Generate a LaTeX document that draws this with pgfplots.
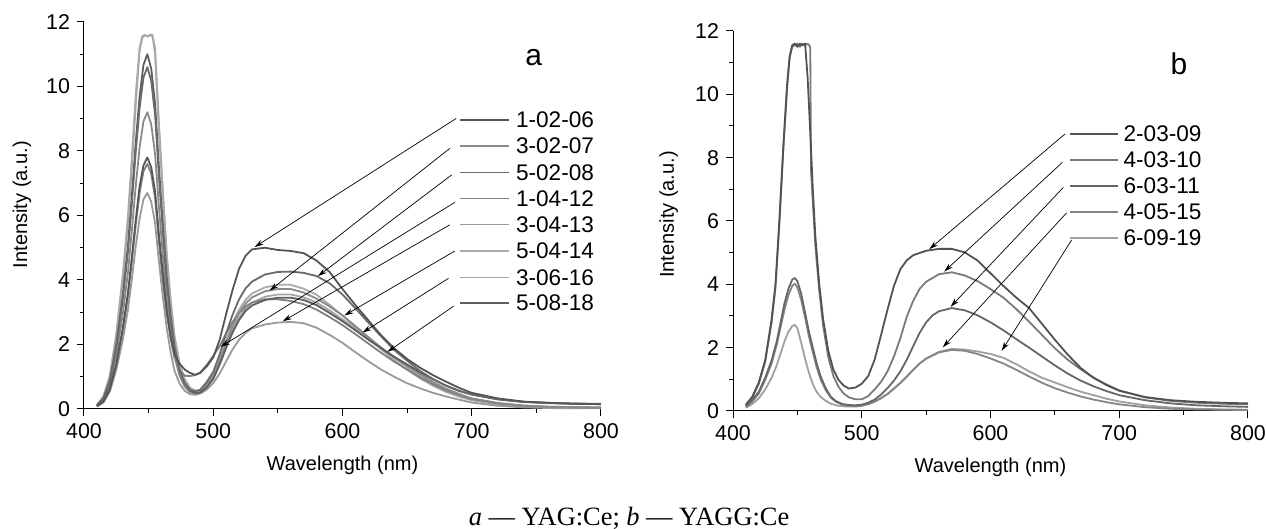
\documentclass[border=0pt]{standalone}
\usepackage{fontspec}
\setmainfont{Liberation Sans}
\newfontfamily\seriffont{Liberation Serif}
\usepackage{pgfplots}
\pgfplotsset{compat=1.18}
\usetikzlibrary{arrows.meta}

\definecolor{la}{HTML}{555555}% 1-02-06
\definecolor{lb}{HTML}{8A8A8A}% 3-02-07
\definecolor{lc}{HTML}{6A6A6A}% 5-02-08
\definecolor{ld}{HTML}{808080}% 1-04-12
\definecolor{le}{HTML}{9A9A9A}% 3-04-13
\definecolor{lf}{HTML}{AAAAAA}% 5-04-14
\definecolor{lg}{HTML}{A6A6A6}% 3-06-16
\definecolor{lh}{HTML}{5E5E5E}% 5-08-18
\definecolor{ra}{HTML}{525252}% 2-03-09
\definecolor{rb}{HTML}{7A7A7A}% 4-03-10
\definecolor{rc}{HTML}{666666}% 6-03-11
\definecolor{rd}{HTML}{858585}% 4-05-15
\definecolor{re}{HTML}{A0A0A0}% 6-09-19

\tikzset{
  leader/.style={line width=0.35pt, black, -{Stealth[length=4.5pt,width=2.6pt]}},
  legline/.style={line width=0.75pt},
  legtext/.style={anchor=west, inner sep=0pt, font=\fontsize{11.3}{13}\selectfont},
}
\pgfplotsset{
  spec/.style={
    scale only axis, xmin=400, xmax=800, ymin=0, ymax=12,
    axis x line*=bottom, axis y line*=left,
    axis line style={-, line width=0.5pt, black},
    xtick={400,500,...,800}, ytick={0,2,...,12},
    minor x tick num=1, minor y tick num=1,
    tick align=outside, major tick length=3.5pt, minor tick length=2pt,
    tick style={black, line width=0.5pt},
    ticklabel style={font=\fontsize{10.7}{12}\selectfont},
    /pgf/number format/assume math mode=true,
    label style={font=\fontsize{11.3}{13}\selectfont},
    xlabel={Wavelength (nm)}, ylabel={Intensity (a.u.)},
    clip=false,
    every axis plot/.append style={line width=0.9pt, no markers, line join=round},
  },
}

\begin{document}
\begin{tikzpicture}
\useasboundingbox (0,0) rectangle (633pt,264.5pt);

% ---------------- panel a ----------------
\begin{axis}[spec, at={(42pt,60pt)}, anchor=south west,
  width=258.5pt, height=193.5pt,
  every axis x label/.style={at={(axis description cs:0.5,-0.145)}, anchor=center},
  every axis y label/.style={at={(axis description cs:-0.12,0.528)}, anchor=center, rotate=90}]

% 3-06-16
\addplot[lg] coordinates {(410,0.12)(415,0.37)(420,1.00)(425,2.25)(430,4.00)(434,5.80)(437,7.50)(440,9.40)(443,11.10)(445,11.50)(447,11.60)(449,11.55)(451,11.60)(453,11.60)(455,11.00)(458,8.62)(461,6.64)(464,4.72)(467,3.34)(470,2.21)(474,1.37)(478,0.89)(482,0.63)(486,0.53)(490,0.54)(495,0.73)(500,0.96)(505,1.42)(510,1.95)(515,2.45)(520,2.84)(525,3.12)(530,3.30)(540,3.48)(550,3.55)(560,3.55)(570,3.46)(580,3.30)(590,3.06)(600,2.78)(610,2.50)(620,2.20)(630,1.90)(640,1.60)(650,1.30)(660,1.02)(670,0.78)(680,0.58)(690,0.42)(700,0.30)(720,0.15)(740,0.08)(760,0.05)(780,0.04)(800,0.03)};
% 5-04-14
\addplot[lf] coordinates {(410,0.13)(415,0.39)(420,1.04)(425,2.34)(430,4.16)(434,5.98)(437,7.80)(440,9.75)(443,11.20)(445,11.55)(447,11.60)(449,11.55)(451,11.60)(453,11.55)(455,11.20)(458,8.86)(461,6.79)(464,4.83)(467,3.42)(470,2.28)(474,1.40)(478,0.92)(482,0.66)(486,0.57)(490,0.57)(495,0.78)(500,1.06)(505,1.54)(510,2.12)(515,2.66)(520,3.08)(525,3.39)(530,3.58)(540,3.77)(550,3.85)(560,3.85)(570,3.73)(580,3.54)(590,3.23)(600,2.90)(610,2.55)(620,2.20)(630,1.85)(640,1.52)(650,1.22)(660,0.95)(670,0.72)(680,0.53)(690,0.38)(700,0.27)(720,0.14)(740,0.08)(760,0.05)(780,0.04)(800,0.03)};
% 3-04-13
\addplot[le] coordinates {(410,0.07)(415,0.20)(420,0.54)(425,1.21)(430,2.14)(434,3.08)(437,4.02)(440,5.03)(443,5.90)(446,6.50)(449,6.70)(452,6.43)(455,5.76)(458,4.56)(461,3.48)(464,2.50)(467,1.77)(470,1.19)(474,0.78)(478,0.56)(482,0.46)(486,0.44)(490,0.48)(495,0.60)(500,0.80)(505,1.10)(510,1.48)(515,1.85)(520,2.15)(525,2.36)(530,2.50)(540,2.62)(550,2.68)(560,2.70)(570,2.66)(580,2.52)(590,2.30)(600,2.05)(610,1.76)(620,1.48)(630,1.22)(640,1.00)(650,0.80)(660,0.64)(670,0.50)(680,0.39)(690,0.29)(700,0.20)(720,0.10)(740,0.05)(760,0.03)(780,0.02)(800,0.02)};
% 1-04-12
\addplot[ld] coordinates {(410,0.08)(415,0.23)(420,0.61)(425,1.37)(430,2.43)(434,3.50)(437,4.56)(440,5.70)(443,6.69)(446,7.37)(449,7.60)(452,7.30)(455,6.54)(458,5.17)(461,3.97)(464,2.96)(467,2.20)(470,1.59)(474,1.18)(478,1.03)(482,1.02)(486,1.05)(490,1.13)(495,1.37)(500,1.65)(505,1.95)(510,2.35)(515,2.70)(520,2.98)(525,3.18)(530,3.30)(540,3.40)(550,3.40)(560,3.35)(570,3.25)(580,3.08)(590,2.85)(600,2.60)(610,2.32)(620,2.03)(630,1.74)(640,1.47)(650,1.22)(660,0.98)(670,0.77)(680,0.58)(690,0.43)(700,0.31)(720,0.17)(740,0.10)(760,0.07)(780,0.05)(800,0.05)};
% 3-02-07
\addplot[lb] coordinates {(410,0.09)(415,0.28)(420,0.74)(425,1.66)(430,2.94)(434,4.23)(437,5.52)(440,6.90)(443,8.10)(446,8.92)(449,9.20)(452,8.83)(455,7.91)(458,6.26)(461,4.78)(464,3.42)(467,2.43)(470,1.63)(474,1.02)(478,0.69)(482,0.52)(486,0.48)(490,0.52)(495,0.76)(500,1.00)(505,1.49)(510,2.05)(515,2.57)(520,2.98)(525,3.27)(530,3.46)(540,3.65)(550,3.72)(560,3.72)(570,3.61)(580,3.42)(590,3.18)(600,2.90)(610,2.57)(620,2.23)(630,1.90)(640,1.60)(650,1.34)(660,1.08)(670,0.84)(680,0.63)(690,0.47)(700,0.33)(720,0.19)(740,0.11)(760,0.07)(780,0.06)(800,0.04)};
% 5-08-18
\addplot[lh] coordinates {(410,0.11)(415,0.33)(420,0.88)(425,1.98)(430,3.52)(434,5.06)(437,6.60)(440,8.25)(443,9.68)(446,10.67)(449,11.00)(452,10.56)(455,9.46)(458,7.48)(461,5.72)(464,4.09)(467,2.89)(470,1.93)(474,1.19)(478,0.79)(482,0.57)(486,0.50)(490,0.51)(495,0.67)(500,0.93)(505,1.38)(510,1.90)(515,2.38)(520,2.76)(525,3.04)(530,3.21)(540,3.38)(550,3.45)(560,3.45)(570,3.38)(580,3.22)(590,2.98)(600,2.72)(610,2.44)(620,2.15)(630,1.88)(640,1.62)(650,1.38)(660,1.14)(670,0.92)(680,0.73)(690,0.57)(700,0.45)(720,0.30)(740,0.22)(760,0.19)(780,0.17)(800,0.16)};
% 5-02-08
\addplot[lc] coordinates {(410,0.11)(415,0.32)(420,0.85)(425,1.91)(430,3.39)(434,4.88)(437,6.36)(440,7.95)(443,9.33)(446,10.28)(449,10.60)(452,10.18)(455,9.12)(458,7.21)(461,5.51)(464,3.94)(467,2.80)(470,1.88)(474,1.17)(478,0.80)(482,0.60)(486,0.55)(490,0.60)(495,0.84)(500,1.15)(505,1.70)(510,2.34)(515,2.93)(520,3.40)(525,3.74)(530,3.95)(540,4.17)(550,4.25)(560,4.26)(570,4.22)(580,4.12)(590,3.90)(600,3.55)(610,3.12)(620,2.68)(630,2.25)(640,1.83)(650,1.50)(660,1.18)(670,0.93)(680,0.72)(690,0.56)(700,0.45)(720,0.30)(740,0.22)(760,0.18)(780,0.16)(800,0.15)};
% 1-02-06
\addplot[la] coordinates {(410,0.10)(415,0.23)(420,0.62)(425,1.40)(430,2.50)(434,3.60)(437,4.70)(440,5.85)(443,6.90)(446,7.55)(449,7.80)(452,7.50)(455,6.75)(458,5.40)(461,4.20)(464,3.05)(467,2.25)(470,1.70)(474,1.40)(478,1.22)(482,1.12)(486,1.06)(490,1.12)(495,1.32)(500,1.60)(505,2.15)(510,2.95)(515,3.70)(520,4.35)(525,4.75)(530,4.95)(540,5.00)(550,4.93)(560,4.90)(570,4.83)(580,4.60)(590,4.25)(600,3.72)(610,3.22)(620,2.75)(630,2.28)(640,1.88)(650,1.55)(660,1.28)(670,1.05)(680,0.85)(690,0.66)(700,0.50)(720,0.33)(740,0.23)(760,0.19)(780,0.16)(800,0.15)};

% legend a
\draw[legline, la] (axis cs:691,8.96) -- (axis cs:729,8.96);
\draw[legline, lb] (axis cs:691,8.16) -- (axis cs:729,8.16);
\draw[legline, lc] (axis cs:691,7.34) -- (axis cs:729,7.34);
\draw[legline, ld] (axis cs:691,6.52) -- (axis cs:729,6.52);
\draw[legline, le] (axis cs:691,5.72) -- (axis cs:729,5.72);
\draw[legline, lf] (axis cs:691,4.90) -- (axis cs:729,4.90);
\draw[legline, lg] (axis cs:691,4.08) -- (axis cs:729,4.08);
\draw[legline, lh] (axis cs:691,3.28) -- (axis cs:729,3.28);
\node[legtext] at (axis cs:734,8.96) {1-02-06};
\node[legtext] at (axis cs:734,8.16) {3-02-07};
\node[legtext] at (axis cs:734,7.34) {5-02-08};
\node[legtext] at (axis cs:734,6.52) {1-04-12};
\node[legtext] at (axis cs:734,5.72) {3-04-13};
\node[legtext] at (axis cs:734,4.90) {5-04-14};
\node[legtext] at (axis cs:734,4.08) {3-06-16};
\node[legtext] at (axis cs:734,3.28) {5-08-18};
\draw[leader] (axis cs:688,9.01) -- (axis cs:532,5.02);
\draw[leader] (axis cs:683,8.08) -- (axis cs:543.6,3.67);
\draw[leader] (axis cs:684.5,7.26) -- (axis cs:581,4.12);
\draw[leader] (axis cs:687,6.41) -- (axis cs:505.8,1.93);
\draw[leader] (axis cs:683,5.71) -- (axis cs:553.8,2.72);
\draw[leader] (axis cs:687,4.90) -- (axis cs:601.5,2.9);
\draw[leader] (axis cs:682,4.05) -- (axis cs:615.5,2.37);
\draw[leader] (axis cs:686,3.19) -- (axis cs:634.8,1.77);
\node[font=\fontsize{15}{18}\selectfont] at (axis cs:748,10.89) {a};
\end{axis}

% ---------------- panel b ----------------
\begin{axis}[spec, at={(366.5pt,59pt)}, anchor=south west,
  width=257.5pt, height=190pt,
  every axis x label/.style={at={(axis description cs:0.5,-0.147)}, anchor=center},
  every axis y label/.style={at={(axis description cs:-0.125,0.517)}, anchor=center, rotate=90}]

% 6-09-19
\addplot[re] coordinates {(410,0.10)(415,0.22)(420,0.40)(425,0.68)(430,1.05)(434,1.45)(437,1.82)(440,2.20)(443,2.50)(446,2.68)(448,2.72)(450,2.62)(453,2.15)(456,1.65)(459,1.20)(462,0.85)(465,0.60)(468,0.45)(472,0.32)(476,0.23)(480,0.18)(485,0.15)(490,0.14)(495,0.14)(500,0.16)(505,0.21)(510,0.29)(515,0.40)(520,0.53)(525,0.70)(530,0.88)(535,1.08)(540,1.30)(545,1.50)(550,1.66)(560,1.87)(570,1.96)(580,1.94)(590,1.88)(600,1.80)(610,1.68)(620,1.48)(630,1.25)(640,1.05)(650,0.90)(660,0.75)(670,0.61)(680,0.50)(690,0.39)(700,0.30)(720,0.18)(740,0.11)(760,0.07)(780,0.05)(800,0.04)};
% 4-05-15
\addplot[rd] coordinates {(410,0.12)(415,0.30)(420,0.55)(425,0.98)(430,1.50)(434,2.10)(437,2.65)(440,3.20)(443,3.65)(446,3.95)(448,4.02)(450,3.90)(453,3.50)(456,2.95)(459,2.35)(462,1.85)(465,1.38)(468,1.00)(472,0.66)(476,0.42)(480,0.29)(485,0.20)(490,0.16)(495,0.15)(500,0.17)(505,0.22)(510,0.30)(515,0.41)(520,0.54)(525,0.71)(530,0.89)(535,1.09)(540,1.30)(545,1.50)(550,1.65)(560,1.85)(570,1.93)(580,1.90)(590,1.80)(600,1.66)(610,1.50)(620,1.30)(630,1.09)(640,0.89)(650,0.72)(660,0.58)(670,0.46)(680,0.36)(690,0.28)(700,0.21)(720,0.12)(740,0.07)(760,0.05)(780,0.04)(800,0.03)};
% 6-03-11
\addplot[rc] coordinates {(410,0.15)(415,0.35)(420,0.60)(425,1.05)(430,1.60)(434,2.20)(437,2.80)(440,3.40)(443,3.85)(446,4.15)(448,4.20)(450,4.10)(453,3.70)(456,3.10)(459,2.50)(462,2.00)(465,1.50)(468,1.10)(472,0.72)(476,0.45)(480,0.31)(485,0.22)(490,0.19)(495,0.18)(500,0.20)(505,0.26)(510,0.36)(515,0.52)(520,0.72)(525,0.96)(530,1.25)(535,1.62)(540,2.05)(545,2.47)(550,2.80)(555,3.02)(560,3.15)(570,3.25)(580,3.18)(590,3.02)(600,2.80)(610,2.55)(620,2.27)(630,2.00)(640,1.72)(650,1.44)(660,1.18)(670,0.96)(680,0.78)(690,0.63)(700,0.50)(720,0.34)(740,0.24)(760,0.18)(780,0.15)(800,0.13)};
% 4-03-10
\addplot[rb] coordinates {(410,0.18)(415,0.42)(420,0.85)(425,1.55)(430,2.80)(433,3.90)(436,5.90)(439,8.20)(442,10.20)(444,11.15)(446,11.50)(448,11.55)(450,11.60)(452,11.50)(454,11.60)(456,11.55)(458,11.60)(460,11.50)(460.6,7.60)(462,6.60)(464,5.20)(467,3.80)(470,2.70)(474,1.70)(478,1.10)(482,0.76)(486,0.55)(490,0.43)(495,0.37)(500,0.37)(505,0.47)(510,0.68)(515,0.92)(520,1.25)(525,1.72)(530,2.30)(535,2.98)(540,3.48)(545,3.86)(550,4.08)(560,4.32)(570,4.38)(580,4.28)(590,4.10)(600,3.85)(610,3.58)(620,3.22)(630,2.82)(640,2.40)(650,1.98)(660,1.62)(670,1.32)(680,1.05)(690,0.84)(700,0.65)(720,0.43)(740,0.32)(760,0.26)(780,0.23)(800,0.21)};
% 2-03-09
\addplot[ra] coordinates {(410,0.20)(415,0.45)(420,0.90)(425,1.60)(430,2.90)(433,4.00)(436,6.00)(439,8.30)(442,10.30)(444,11.20)(446,11.55)(448,11.60)(450,11.50)(452,11.60)(454,11.55)(456,11.60)(458,10.50)(460,8.80)(462,7.00)(464,5.50)(467,4.00)(470,2.90)(474,1.90)(478,1.30)(482,0.98)(486,0.80)(490,0.71)(495,0.74)(500,0.86)(505,1.10)(510,1.62)(515,2.40)(520,3.20)(525,3.95)(530,4.48)(535,4.76)(540,4.92)(550,5.06)(560,5.12)(570,5.12)(580,5.01)(590,4.75)(600,4.35)(610,3.95)(620,3.58)(630,3.25)(640,2.75)(650,2.25)(660,1.78)(670,1.36)(680,1.05)(690,0.82)(700,0.64)(720,0.44)(740,0.34)(760,0.29)(780,0.26)(800,0.24)};

% legend b
\draw[legline, ra] (axis cs:661.7,8.75) -- (axis cs:698.8,8.75);
\draw[legline, rb] (axis cs:661.7,7.93) -- (axis cs:698.8,7.93);
\draw[legline, rc] (axis cs:661.7,7.11) -- (axis cs:698.8,7.11);
\draw[legline, rd] (axis cs:661.7,6.29) -- (axis cs:698.8,6.29);
\draw[legline, re] (axis cs:661.7,5.47) -- (axis cs:698.8,5.47);
\node[legtext] at (axis cs:703.1,8.75) {2-03-09};
\node[legtext] at (axis cs:703.1,7.93) {4-03-10};
\node[legtext] at (axis cs:703.1,7.11) {6-03-11};
\node[legtext] at (axis cs:703.1,6.29) {4-05-15};
\node[legtext] at (axis cs:703.1,5.47) {6-09-19};
\draw[leader] (axis cs:657.9,8.75) -- (axis cs:552.5,5.11);
\draw[leader] (axis cs:655.8,7.85) -- (axis cs:564,4.40);
\draw[leader] (axis cs:656.6,7.06) -- (axis cs:569,3.29);
\draw[leader] (axis cs:659.2,6.26) -- (axis cs:562.9,2.01);
\draw[leader] (axis cs:663,5.40) -- (axis cs:608.7,1.90);
\node[font=\fontsize{15}{18}\selectfont] at (axis cs:746.4,10.96) {b};
\end{axis}

\node[font=\seriffont\fontsize{13.2}{15}\selectfont] at (314.5pt,5.5pt) {\itshape a\upshape{} — YAG:Ce; \itshape b\upshape{} — YAGG:Ce};
\end{tikzpicture}
\end{document}
